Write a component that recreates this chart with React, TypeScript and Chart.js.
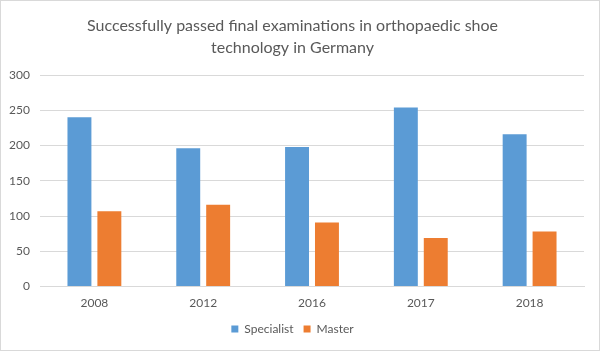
import React, { useEffect, useRef } from "react";
import { Chart, registerables } from "chart.js";

Chart.register(...registerables);

const categories = ["2008", "2012", "2016", "2017", "2018"];
const specialist = [240, 196, 198, 254, 216];
const master = [107, 116, 91, 69, 78];
const yTicks = [0, 50, 100, 150, 200, 250, 300];
const titleLines = [
  "Successfully passed final examinations in orthopaedic shoe",
  "technology in Germany",
];

const FONT = "Lato, 'Open Sans', sans-serif";
const TEXT = "#595959";
const GRID = "#d9d9d9";

export default function App() {
  const ref = useRef<HTMLCanvasElement | null>(null);
  useEffect(() => {
    if (!ref.current) return;
    const chart = new Chart(ref.current, {
      type: "bar",
      data: {
        labels: categories,
        datasets: [
          {
            label: "Specialist",
            data: specialist,
            backgroundColor: "#5B9BD5",
            borderWidth: 0,
          },
          {
            label: "Master",
            data: master,
            backgroundColor: "#ED7D31",
            borderWidth: 0,
          },
        ],
      },
      options: {
        animation: false,
        responsive: false,
        maintainAspectRatio: false,
        layout: { padding: { left: 0, right: 15, top: 14, bottom: 5 } },
        datasets: {
          bar: { categoryPercentage: 0.55, barPercentage: 0.8 },
        },
        plugins: {
          title: {
            display: true,
            text: titleLines,
            color: TEXT,
            font: { family: FONT, size: 16, weight: "normal", lineHeight: "22px" },
            padding: { top: 0, bottom: 16 },
          },
          legend: {
            position: "bottom",
            labels: {
              color: TEXT,
              font: { family: FONT, size: 12 },
              boxWidth: 7,
              boxHeight: 7,
              padding: 10,
            },
          },
          tooltip: { enabled: false },
        },
        scales: {
          x: {
            afterFit: (s: any) => {
              s.height = s.height - 6;
            },
            grid: { display: false, drawTicks: false },
            border: { display: true, color: GRID },
            ticks: { color: TEXT, font: { family: FONT, size: 12 }, padding: 9 },
          },
          y: {
            min: 0,
            max: 300,
            afterFit: (s: any) => {
              s.width = 39;
            },
            afterBuildTicks: (s: any) => {
              s.ticks = yTicks.map((v) => ({ value: v }));
            },
            grid: { color: GRID, drawTicks: false },
            border: { display: false },
            ticks: { color: TEXT, font: { family: FONT, size: 12 }, padding: 10 },
          },
        },
      },
    });
    return () => chart.destroy();
  }, []);
  return (
    <div
      style={{
        position: "absolute",
        left: 0,
        top: 0,
        width: 600,
        height: 351,
        boxSizing: "border-box",
        border: "1px solid #d9d9d9",
        background: "#fff",
      }}
    >
      <canvas ref={ref} width={598} height={349} style={{ display: "block" }} />
    </div>
  );
}
